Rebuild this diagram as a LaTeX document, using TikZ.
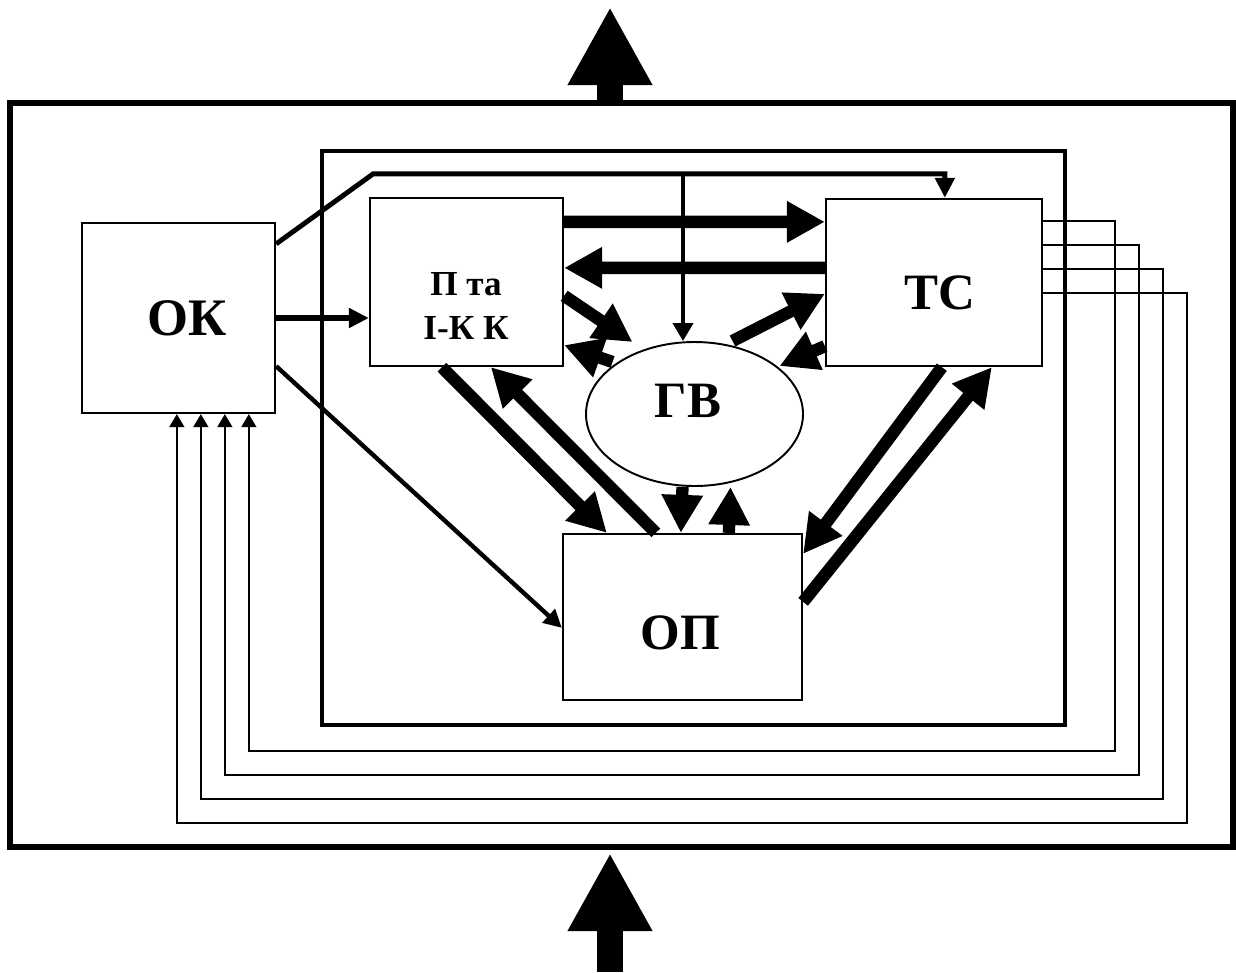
\documentclass[tikz,border=0pt]{standalone}
\usepackage{fontspec}
\setmainfont{Liberation Serif}
\usetikzlibrary{arrows.meta, shapes.geometric, calc, positioning}

\begin{document}
\begin{tikzpicture}[x=0.2mm, y=-0.2mm,
  frame/.style={rectangle, draw, inner sep=0pt},
  block/.style={rectangle, draw, line width=1.3pt, inner sep=0pt},
  caption/.style={font=\bfseries\fontsize{29}{31}\selectfont, inner sep=0pt},
  heavy/.style={-{Triangle[length=7.6mm, width=7.8mm]}, line width=7pt},
  flow/.style={-{Triangle[length=4mm, width=3.8mm]}, line width=3pt},
  feedback/.style={-{Triangle[length=2.6mm, width=3mm]}, line width=0.9pt},
  bigarrow/.style={-{Triangle[length=15.6mm, width=15.8mm]}, line width=14.7pt},
]
  \useasboundingbox (0,0) rectangle (1236,972);

  % frames
  \node[frame, line width=3.4pt, minimum width=244.6mm, minimum height=148.8mm] (sys) at (621.5,475) {};
  \node[frame, line width=2.8pt, minimum width=148.6mm, minimum height=114.8mm] (core) at (693.5,438) {};

  % blocks
  \node[block, minimum width=38.6mm, minimum height=38mm] (ok) at (178.5,318) {};
  \node[block, minimum width=38.6mm, minimum height=33.6mm] (pk) at (466.5,282) {};
  \node[block, minimum width=43.2mm, minimum height=33.4mm] (tc) at (934,282.5) {};
  \node[block, minimum width=47.8mm, minimum height=33.2mm] (op) at (682.5,617) {};
  \node[block, ellipse, line width=1.1pt, minimum width=43.4mm, minimum height=28.8mm] (gv) at (694.5,414) {};

  \node[caption, font=\bfseries\fontsize{30}{32}\selectfont] (okt) at (187,318) {ОК};
  \node[caption, font=\bfseries\fontsize{20}{25}\selectfont, align=center] (pkt) at (466,306) {П та\\І-К К};
  \node[caption] (tct) at (940,293) {ТС};
  \node[caption] (gvt) at (688,401) {ГВ};
  \node[caption] (opt) at (680,633) {ОП};

  % from OK
  \draw[flow] (ok.east) -- (ok.east -| pk.west);
  \draw[flow, line width=2.8pt] ($(ok.north east)+(0,22)$) -- ++(97,-70)
      -- ($(tc.north west)+(120,-24)$) -- ($(tc.north west)+(120,0)$);
  \coordinate (br) at (683,175);
  \draw[flow, line width=2.3pt, -{Triangle[length=3.6mm, width=4mm]}] (br) -- (br |- gv.north);
  \draw[flow, line width=2.5pt, -{Triangle[length=3.6mm, width=3.6mm]}]
      ($(ok.south east)+(0,-48)$) -- ($(op.north west)+(0,95)$);

  % heavy links
  \draw[heavy] ($(pk.north east)+(0,25)$) -- ($(tc.north west)+(0,24)$);
  \draw[heavy] ($(tc.north west)+(0,70)$) -- ($(pk.north east)+(0,71)$);
  \draw[heavy] ($(pk.north east)+(0,99)$) -- ($(gv.center)+(-62,-72)$);
  \draw[heavy] ($(gv.center)+(-82,-52)$) -- ($(pk.south east)+(0,-22)$);
  \draw[heavy] ($(gv.center)+(38,-73)$) -- ($(tc.north west)+(0,96)$);
  \draw[heavy] ($(tc.south west)+(0,-21)$) -- ($(gv.center)+(85,-48)$);
  \draw[heavy] ($(pk.south west)+(73,0)$) -- ($(op.north west)+(45,0)$);
  \draw[heavy] ($(op.north west)+(94,0)$) -- ($(pk.south west)+(122,0)$);
  \draw[heavy] ($(gv.south)+(-12,0)$) -- ($(op.north west)+(119,0)$);
  \draw[heavy] ($(op.north west)+(167,0)$) -- ($(gv.south)+(36,0)$);
  \draw[heavy] ($(tc.south west)+(117,0)$) -- ($(op.north east)+(0,21)$);
  \draw[heavy] ($(op.north east)+(0,69)$) -- ($(tc.south west)+(167,0)$);

  % feedback from TC to OK
  \foreach \i in {0,...,3}
    \draw[feedback] ($(tc.north east)+(0,23+24*\i)$) -- ++(72+24*\i,0)
        |- ($(ok.south west)+(168-24*\i,337+24*\i)$) -- ($(ok.south west)+(168-24*\i,0)$);

  % input and output
  \coordinate (out) at (610,7);
  \coordinate (in) at (610,972);
  \draw[bigarrow] (out |- sys.north) -- (out);
  \draw[bigarrow] (in) -- ($(in |- sys.south)+(0,3)$);
\end{tikzpicture}
\end{document}
